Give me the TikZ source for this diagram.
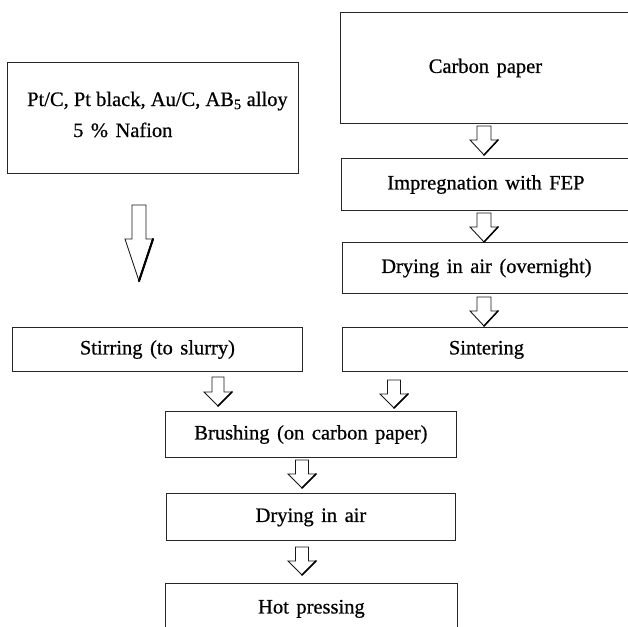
\documentclass[tikz,border=0pt]{standalone}
\usepackage{fontspec}
\setmainfont{Liberation Serif}[FakeBold=0.6]
\newcommand\myboxfont{\fontsize{20.5}{24}\selectfont\spaceskip=7.5pt plus 2pt minus 1pt\relax}
\newcommand\mytxtfont{\fontsize{20.5}{24}\selectfont}
\tikzset{
  pics/barr/.style n args={4}{code={
    \draw[barrow] (-#1,0) -- (#1,0) -- (#1,#3) -- (#2,#3) -- (0,#4) -- (-#2,#3) -- (-#1,#3) -- cycle;
    \draw[line width=1.5pt, line cap=round] (#2,#3) -- (0,#4);}}
}
\begin{document}
\begin{tikzpicture}[x=1pt,y=-1pt,
  box/.style={draw=black!85, line width=0.9pt, inner sep=0pt, anchor=north west,
    font=\myboxfont, text height=14pt, text depth=4pt},
  txt/.style={inner sep=0pt, font=\mytxtfont, anchor=base west},
  barrow/.style={draw=black!90, line width=0.9pt, fill=white, line join=miter}]
\useasboundingbox (0,0) rectangle (628,626);
\clip (0,0) rectangle (628,626);
\fill[white] (0,0) rectangle (628,626);
% left column
\node[box, minimum width=291pt, minimum height=111pt] (mat) at (7,62) {};
\node[txt] (mat1) at (27,106) {Pt/C, Pt black, Au/C, AB\textsubscript{5} alloy};
\node[txt, font=\myboxfont] (mat2) at (73,137) {5 \% Nafion};
\node[box, minimum width=290pt, minimum height=44pt] (stir) at (12,327) {Stirring (to slurry)};
% right column
\node[box, minimum width=290pt, minimum height=111pt] (cp) at (340,12) {Carbon paper};
\node[box, minimum width=289pt, minimum height=52pt] (imp) at (341,158) {Impregnation with FEP};
\node[box, minimum width=288pt, minimum height=51pt] (dry1) at (342,242) {Drying in air (overnight)};
\node[box, minimum width=288pt, minimum height=44pt] (sint) at (342,327) {Sintering};
% centre column
\node[box, minimum width=291pt, minimum height=46pt] (brush) at (165,411) {Brushing (on carbon paper)};
\node[box, minimum width=289pt, minimum height=47pt] (dry2) at (166,493) {Drying in air};
\node[box, minimum width=292pt, minimum height=50pt] (hot) at (165,583) {Hot pressing};
% block arrows
\pic at (484,126) {barr={7}{14}{14}{29}};
\pic at (484,213) {barr={7}{14}{14}{29}};
\pic at (484,297) {barr={7}{14}{14}{29}};
\pic at (139,205) {barr={7}{14}{34}{76}};
\draw[line width=2.2pt, line cap=round] (153,239) -- (139,281);
\pic at (218,377) {barr={6}{14}{15}{29}};
\pic at (394,380) {barr={6.5}{14}{14}{28}};
\pic at (302,460) {barr={6.5}{14}{14}{28}};
\pic at (302,547) {barr={6.5}{14}{14}{28}};
\end{tikzpicture}
\end{document}
